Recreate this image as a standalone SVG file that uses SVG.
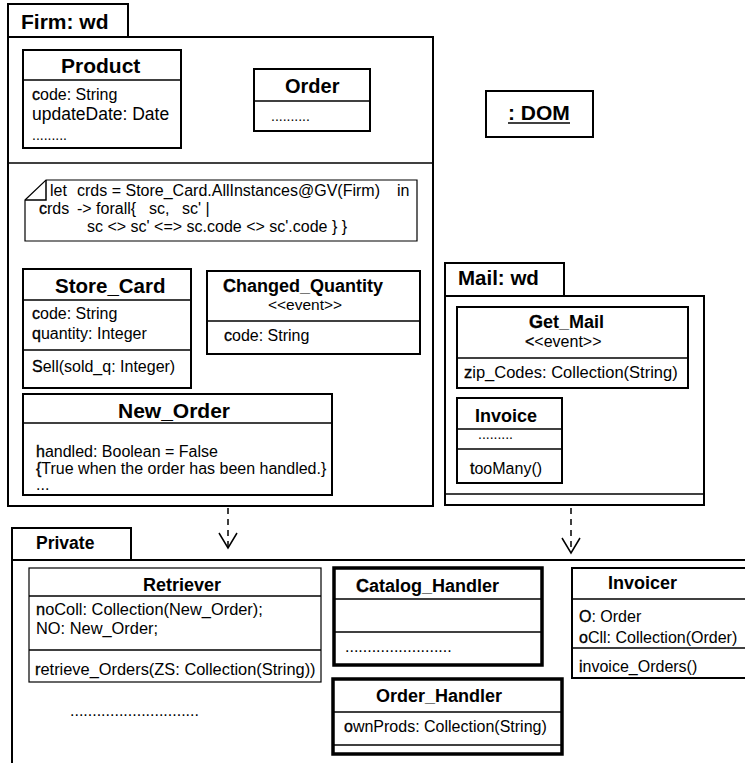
<svg xmlns="http://www.w3.org/2000/svg" width="745" height="763" viewBox="0 0 745 763">
  <style>
    text { font-family: "Liberation Sans", Arial, Helvetica, sans-serif; fill: #000; }
    .t { font-weight: bold; }
    .a { font-size: 16px; }
    .dots { font-size: 14px; }
    .frame { fill: #fff; stroke: #000; stroke-width: 2; }
    .box { fill: #fff; stroke: #000; stroke-width: 2; }
    .thin { fill: #fff; stroke: #000; stroke-width: 1.2; }
    .thick { fill: #fff; stroke: #000; stroke-width: 3.5; }
    .sep { stroke: #000; stroke-width: 1.5; fill: none; }
    .ld { stroke: #000; stroke-width: 0.35; }
    .dep { stroke: #000; stroke-width: 1.5; fill: none; stroke-dasharray: 6 5; }
    .head { stroke: #000; stroke-width: 1.5; fill: none; }
  </style>

  <rect width="745" height="763" fill="#fff"/>

  <!-- Package Firm -->
  <g id="pkg-firm">
    <rect class="frame" x="8" y="4" width="120" height="33"/>
    <rect class="frame" x="8" y="37" width="425" height="469"/>
    <line class="sep" x1="8" y1="163" x2="433" y2="163"/>
    <text class="t" x="21" y="29" font-size="21">Firm: wd</text>
  </g>

  <g id="product">
    <rect class="box" x="23" y="50" width="158" height="98"/>
    <line class="sep" x1="23" y1="80" x2="181" y2="80"/>
    <text class="t" x="61" y="73" font-size="21">Product</text>
    <text class="a" x="32" y="100"><tspan class="ld">c</tspan>ode: String</text>
    <text x="32" y="120" font-size="17.5">updateDate: Date</text>
    <text class="dots" x="32" y="140">.........</text>
  </g>

  <g id="order">
    <rect class="box" x="254" y="69" width="116" height="62"/>
    <line class="sep" x1="254" y1="101" x2="370" y2="101"/>
    <text class="t" x="285" y="93" font-size="20">Order</text>
    <text class="dots" x="271" y="121">..........</text>
  </g>

  <g id="dom">
    <rect class="box" x="486" y="91" width="107" height="46"/>
    <text class="t" x="508" y="120" font-size="21">: DOM</text>
    <line x1="508" y1="123" x2="570" y2="123" stroke="#000" stroke-width="1.5"/>
  </g>

  <g id="constraint">
    <path class="thin" d="M25,200 L46,180 L417,180 L417,241 L25,241 Z" stroke-width="1.5"/>
    <path class="sep" d="M25,200 L46,200 L46,180" stroke-width="1.2"/>
    <text class="a" y="196"><tspan x="50">let</tspan><tspan x="77">crds = Store_Card.AllInstances@GV(Firm)</tspan><tspan x="397">in</tspan></text>
    <text class="a" y="214"><tspan x="39"><tspan class="ld">c</tspan>rds</tspan><tspan x="77">-&gt; forall{</tspan><tspan x="149">sc,</tspan><tspan x="182">sc' |</tspan></text>
    <text class="a" x="87" y="232">sc &lt;&gt; sc' &lt;=&gt; sc.code &lt;&gt; sc'.code } }</text>
  </g>

  <g id="store-card">
    <rect class="box" x="23" y="269" width="168" height="119"/>
    <line class="sep" x1="23" y1="300" x2="191" y2="300"/>
    <line class="sep" x1="23" y1="350" x2="191" y2="350"/>
    <text class="t" x="55" y="293" font-size="20.5">Store_Card</text>
    <text class="a" x="32" y="319"><tspan class="ld">c</tspan>ode: String</text>
    <text class="a" x="32" y="339"><tspan class="ld">q</tspan>uantity: Integer</text>
    <text class="a" x="32" y="372"><tspan class="ld">S</tspan>ell(sold_q: Integer)</text>
  </g>

  <g id="changed-quantity">
    <rect class="box" x="207" y="271" width="213" height="83"/>
    <line class="sep" x1="207" y1="321" x2="420" y2="321"/>
    <text class="t" x="223" y="292" font-size="18"><tspan class="ld">C</tspan>hanged_Quantity</text>
    <text x="268" y="310" font-size="15.5">&lt;&lt;event&gt;&gt;</text>
    <text class="a" x="224" y="341"><tspan class="ld">c</tspan>ode: String</text>
  </g>

  <g id="new-order">
    <rect class="box" x="23" y="394" width="309" height="101"/>
    <line class="sep" x1="23" y1="423" x2="332" y2="423"/>
    <text class="t" x="118" y="418" font-size="21">New_Order</text>
    <text class="a" x="36" y="457"><tspan class="ld">h</tspan>andled: Boolean = False</text>
    <text class="a" x="36" y="474"><tspan class="ld">{</tspan>True when the order has been handled.}</text>
    <text class="a" x="36" y="490">...</text>
  </g>

  <!-- Package Mail -->
  <g id="pkg-mail">
    <rect class="frame" x="445" y="263" width="119" height="33"/>
    <rect class="frame" x="445" y="296" width="259" height="209"/>
    <line class="sep" x1="445" y1="494" x2="704" y2="494"/>
    <text class="t" x="458" y="285" font-size="20.5">Mail: wd</text>
  </g>

  <g id="get-mail">
    <rect class="box" x="457" y="307" width="231" height="81"/>
    <line class="sep" x1="457" y1="358" x2="688" y2="358"/>
    <text class="t" x="529" y="328" font-size="18"><tspan class="ld">G</tspan>et_Mail</text>
    <text x="525" y="347" font-size="16"><tspan class="ld">&lt;</tspan>&lt;event&gt;&gt;</text>
    <text x="464" y="378" font-size="16.5"><tspan class="ld">z</tspan>ip_Codes: Collection(String)</text>
  </g>

  <g id="invoice">
    <rect class="box" x="457" y="398" width="105" height="85"/>
    <line class="sep" x1="457" y1="429" x2="562" y2="429"/>
    <line class="sep" x1="457" y1="449" x2="562" y2="449"/>
    <text class="t" x="475" y="422" font-size="18">Invoice</text>
    <text class="dots" x="478" y="439">.........</text>
    <text class="a" x="470" y="474"><tspan class="ld">t</tspan>ooMany()</text>
  </g>

  <!-- Package Private -->
  <g id="pkg-private">
    <rect class="frame" x="12" y="528" width="119" height="32"/>
    <path class="frame" d="M12,560 L12,770 M12,560 L750,560" fill="none"/>
    <text class="t" x="36" y="549" font-size="17.5">Private</text>
    <text x="70" y="716" font-size="16">.............................</text>
  </g>

  <g id="retriever">
    <rect class="thin" x="29" y="568" width="292" height="114"/>
    <line class="sep" x1="29" y1="596" x2="321" y2="596" stroke-width="1.2"/>
    <line class="sep" x1="29" y1="650" x2="321" y2="650" stroke-width="1.2"/>
    <text class="t" x="143" y="591" font-size="18">Retriever</text>
    <text x="36" y="615" font-size="16.4"><tspan class="ld">n</tspan>oColl: Collection(New_Order);</text>
    <text x="36" y="634" font-size="16.4">NO: New_Order;</text>
    <text x="35" y="675" font-size="16.4"><tspan class="ld">r</tspan>etrieve_Orders(ZS: Collection(String))</text>
  </g>

  <g id="catalog-handler">
    <rect class="thick" x="334" y="568" width="208" height="97"/>
    <line class="sep" x1="334" y1="599" x2="542" y2="599"/>
    <line class="sep" x1="334" y1="632" x2="542" y2="632"/>
    <text class="t" x="356" y="592" font-size="18"><tspan class="ld">C</tspan>atalog_Handler</text>
    <text x="345" y="652" font-size="16">........................</text>
  </g>

  <g id="order-handler">
    <rect class="thick" x="333" y="679" width="229" height="75"/>
    <line class="sep" x1="333" y1="712" x2="562" y2="712"/>
    <line class="sep" x1="333" y1="745" x2="562" y2="745"/>
    <text class="t" x="376" y="702" font-size="18">Order_Handler</text>
    <text class="a" x="344" y="732"><tspan class="ld">o</tspan>wnProds: Collection(String)</text>
  </g>

  <g id="invoicer">
    <rect class="box" x="572" y="568" width="190" height="110" stroke-width="1.5"/>
    <line class="sep" x1="572" y1="599" x2="750" y2="599"/>
    <line class="sep" x1="572" y1="648" x2="750" y2="648"/>
    <text class="t" x="608" y="589" font-size="18">Invoicer</text>
    <text class="a" x="579" y="622"><tspan class="ld">O</tspan>: Order</text>
    <text class="a" x="579" y="643"><tspan class="ld">o</tspan>Cll: Collection(Order)</text>
    <text class="a" x="579" y="672"><tspan class="ld">i</tspan>nvoice_Orders()</text>
  </g>

  <!-- Dependency connectors -->
  <g id="connectors">
    <line class="dep" x1="228" y1="508" x2="228" y2="547"/>
    <polyline class="head" points="219,533 228,548 237,533"/>
    <line class="dep" x1="571" y1="508" x2="571" y2="552"/>
    <polyline class="head" points="562,538 571,553 580,538"/>
  </g>
</svg>
